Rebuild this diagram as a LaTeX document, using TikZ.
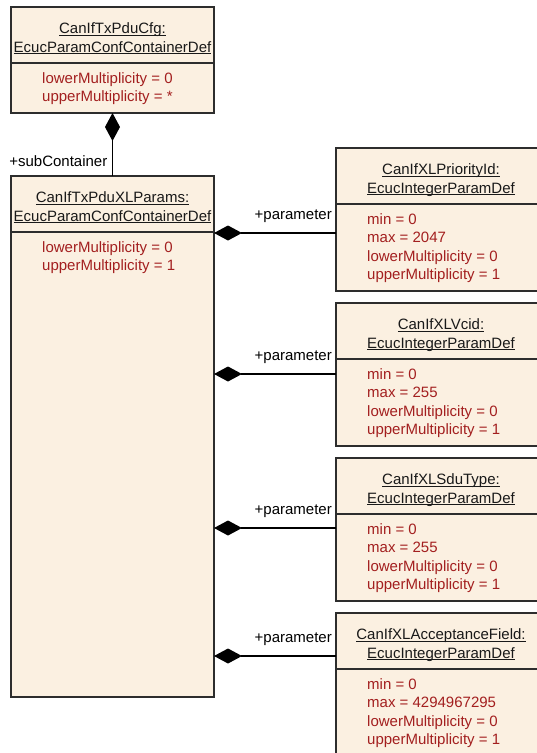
\documentclass[tikz,border=0pt]{standalone}
\usepackage{fontspec}
\setmainfont{Liberation Sans}
\usetikzlibrary{arrows.meta}
\definecolor{boxfill}{RGB}{251,240,225}
\definecolor{boxline}{RGB}{45,45,45}
\definecolor{attrred}{RGB}{163,31,31}
\newcommand{\ulname}[1]{\setbox0\hbox{#1}\rlap{\rule[-2pt]{\wd0}{1pt}}\box0}

\begin{document}
\begin{tikzpicture}[x=1pt, y=-1pt,
		font=\fontsize{15}{18.5}\selectfont,
		umlbox/.style={draw=boxline, fill=boxfill, line width=1.2pt, inner sep=0, outer sep=0, anchor=north west, minimum width=203pt},
		boxname/.style={anchor=base, align=center, inner sep=0, text=black!90},
		attrs/.style={anchor=base west, align=left, inner sep=0, text=attrred},
		comp/.style={draw=black, line width=1.2pt, -{Diamond[length=28pt, width=15pt]}},
		role/.style={anchor=base east, inner sep=0}]
		\useasboundingbox (0, 0) rectangle (537, 753);

		% base anchor of a two- or four-line node sits on its last line
		\node[umlbox, minimum height=106pt] (cfg) at (11, 7) {};
		\draw[boxline, line width=1.2pt] ([yshift=-56pt]cfg.north west) -- ([yshift=-56pt]cfg.north east);
		\node[boxname] (cfgname) at ([yshift=-45pt]cfg.north) {\ulname{CanIfTxPduCfg:}\\\ulname{EcucParamConfContainerDef}};
		\node[attrs] (cfgattr) at ([xshift=31pt, yshift=-94.5pt]cfg.north west) {lowerMultiplicity = 0\\upperMultiplicity = *};

		\node[umlbox, minimum height=521pt] (xl) at (11, 176) {};
		\draw[boxline, line width=1.2pt] ([yshift=-56pt]xl.north west) -- ([yshift=-56pt]xl.north east);
		\node[boxname] (xlname) at ([yshift=-45pt]xl.north) {\ulname{CanIfTxPduXLParams:}\\\ulname{EcucParamConfContainerDef}};
		\node[attrs] (xlattr) at ([xshift=31pt, yshift=-94.5pt]xl.north west) {lowerMultiplicity = 0\\upperMultiplicity = 1};

		\draw[comp] (xl.north) -- (cfg.south);
		\node[role] (sub) at ([xshift=-5pt, yshift=10pt]xl.north) {+subContainer};

		\foreach \n/\y/\t/\mx/\c in {prio/148/CanIfXLPriorityId:/2047/85, vcid/303/CanIfXLVcid:/255/71, sdu/458/CanIfXLSduType:/255/70, acc/613/CanIfXLAcceptanceField:/4294967295/43} {
			\node[umlbox, minimum width=210pt, minimum height=143pt] (\n) at (336, \y) {};
			\draw[boxline, line width=1.2pt] ([yshift=-56pt]\n.north west) -- ([yshift=-56pt]\n.north east);
			\node[boxname] (\n-name) at ([yshift=-45pt]\n.north) {\ulname{\t}\\\ulname{EcucIntegerParamDef}};
			\node[attrs] (\n-attr) at ([xshift=31pt, yshift=-131.5pt]\n.north west) {min = 0\\max = \mx\\lowerMultiplicity = 0\\upperMultiplicity = 1};
			\path ([yshift=-\c pt]\n.north west) coordinate (\n-end);
			\draw[comp] (\n-end) -- (\n-end -| xl.east);
			\node[role] (\n-role) at ([xshift=-4pt, yshift=14pt]\n-end) {+parameter};
		}
	\end{tikzpicture}
\end{document}
